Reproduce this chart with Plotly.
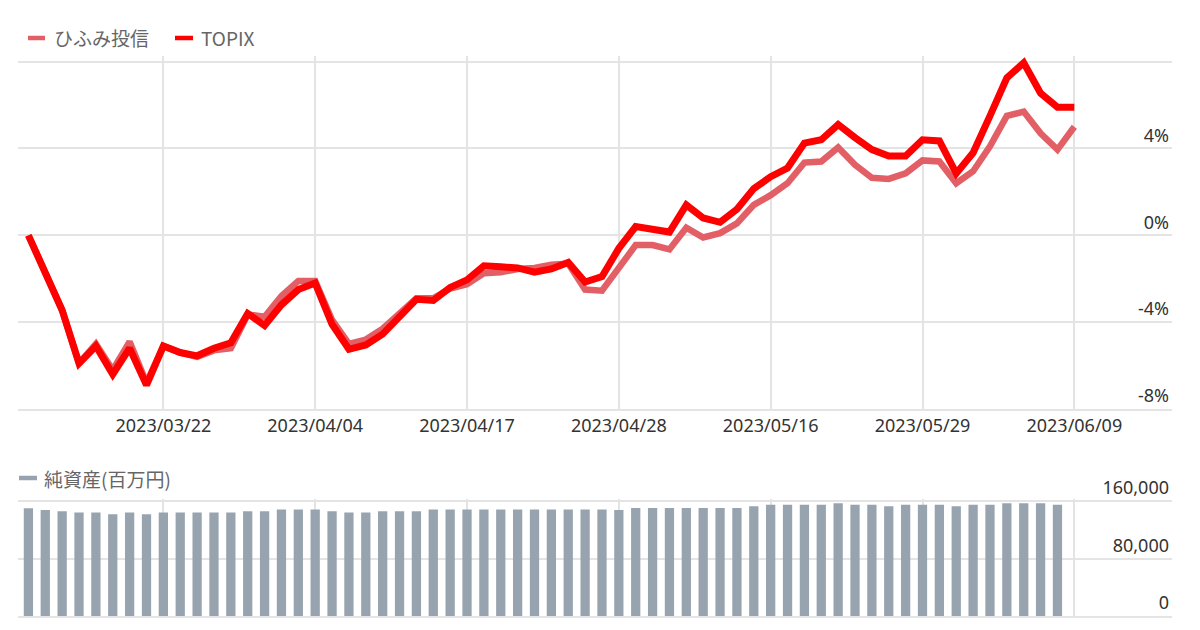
import plotly.graph_objects as go

# ---------------- data ----------------
dates = [
    "2023/03/09", "2023/03/10", "2023/03/13", "2023/03/14", "2023/03/15", "2023/03/16", "2023/03/17",
    "2023/03/20", "2023/03/22", "2023/03/23", "2023/03/24", "2023/03/27", "2023/03/28", "2023/03/29",
    "2023/03/30", "2023/03/31",
    "2023/04/03", "2023/04/04", "2023/04/05", "2023/04/06", "2023/04/07", "2023/04/10", "2023/04/11",
    "2023/04/12", "2023/04/13", "2023/04/14", "2023/04/17", "2023/04/18", "2023/04/19", "2023/04/20",
    "2023/04/21", "2023/04/24", "2023/04/25", "2023/04/26", "2023/04/27", "2023/04/28",
    "2023/05/01", "2023/05/02", "2023/05/08", "2023/05/09", "2023/05/10", "2023/05/11", "2023/05/12",
    "2023/05/15", "2023/05/16", "2023/05/17", "2023/05/18", "2023/05/19", "2023/05/22", "2023/05/23",
    "2023/05/24", "2023/05/25", "2023/05/26", "2023/05/29", "2023/05/30", "2023/05/31",
    "2023/06/01", "2023/06/02", "2023/06/05", "2023/06/06", "2023/06/07", "2023/06/08", "2023/06/09",
]

hifumi = [
    0.0, -1.8, -3.45, -5.9, -5.0, -6.2, -4.9, -6.8, -5.1, -5.4, -5.6, -5.3, -5.2, -3.65, -3.75,
    -2.8, -2.1, -2.1, -3.9, -5.0, -4.8, -4.3, -3.6, -2.9, -2.9, -2.45, -2.25, -1.75, -1.7, -1.55,
    -1.5, -1.35, -1.3, -2.5, -2.55, -1.45, -0.45, -0.45, -0.65, 0.35, -0.1, 0.1, 0.55, 1.4, 1.85,
    2.4, 3.35, 3.4, 4.05, 3.25, 2.65, 2.6, 2.85, 3.45, 3.4, 2.4, 2.95, 4.1, 5.5, 5.7, 4.7, 3.95, 5.0,
]

topix = [
    0.0, -1.8, -3.45, -5.9, -5.1, -6.4, -5.2, -6.9, -5.1, -5.4, -5.55, -5.2, -4.95, -3.6, -4.15,
    -3.2, -2.5, -2.2, -4.1, -5.25, -5.05, -4.55, -3.7, -2.95, -3.0, -2.4, -2.05, -1.4, -1.45, -1.5,
    -1.7, -1.55, -1.25, -2.15, -1.9, -0.6, 0.4, 0.25, 0.15, 1.4, 0.8, 0.6, 1.2, 2.15, 2.7,
    3.1, 4.25, 4.4, 5.1, 4.5, 3.95, 3.65, 3.65, 4.4, 4.35, 2.85, 3.8, 5.5, 7.25, 7.95, 6.55, 5.9, 5.9,
]

# 純資産 (百万円) – available up to 2023/06/08
net_assets = [
    149900, 147600, 145700, 143900, 143900, 141600, 143900, 141600, 143900, 143900,
    143900, 143900, 143900, 145700, 145700, 148000, 148000, 148000, 145700, 143900,
    143900, 145700, 145700, 145700, 148000, 148000, 148000, 148000, 148000, 148000,
    148000, 148000, 148000, 148000, 148000, 147500, 150300, 150300, 150300, 150300,
    150300, 150300, 150300, 152600, 154900, 154900, 154900, 154900, 156800, 154900,
    154900, 152600, 154900, 154900, 154900, 152600, 154900, 154900, 156800, 156800,
    156800, 154900,
]

tick_dates = ["2023/03/22", "2023/04/04", "2023/04/17", "2023/04/28", "2023/05/16", "2023/05/29", "2023/06/09"]
pct_ticks = [-8, -4, 0, 4, 8]
pct_labels = ["-8%", "-4%", "0%", "4%", ""]
asset_ticks = [0, 80000, 160000]

series_names = ["ひふみ投信", "TOPIX"]
bar_name = "純資産(百万円)"

# ---------------- style ----------------
W, H = 1200, 630
ML, MR, MT, MB = 18, 28, 0, 14
PW = W - ML - MR
PH = H - MT - MB

def px_x(p):
    return (p - ML) / PW

def px_y(p):
    return (H - MB - p) / PH

GRID = "#e4e4e4"
HIFUMI_C = "#e35f66"
TOPIX_C = "#ff0000"
BAR_C = "#97a4b0"
TICK_FONT = dict(family="Noto Sans, Noto Sans CJK JP", size=18, color="#333333")
LEG_FONT = dict(family="Noto Sans CJK JP", size=19, color="#666666")

fig = go.Figure()
fig.add_trace(go.Scatter(x=dates, y=hifumi, mode="lines", name=series_names[0],
                         line=dict(color=HIFUMI_C, width=6.5), xaxis="x", yaxis="y",
                         showlegend=False))
fig.add_trace(go.Scatter(x=dates, y=topix, mode="lines", name=series_names[1],
                         line=dict(color=TOPIX_C, width=7), xaxis="x", yaxis="y",
                         showlegend=False))
fig.add_trace(go.Bar(x=dates[:len(net_assets)], y=net_assets, name=bar_name,
                     marker=dict(color=BAR_C, line=dict(width=0)), xaxis="x2", yaxis="y2",
                     showlegend=False))

xrange = [-0.617, 67.79]
common_x = dict(type="category", categoryorder="array", categoryarray=dates, range=xrange,
                tickmode="array", tickvals=tick_dates, ticktext=tick_dates,
                showgrid=True, gridcolor=GRID, gridwidth=1.5, ticks="",
                showline=True, linecolor=GRID, linewidth=1.5, zeroline=False,
                automargin=False)

PX_PER_80K = 57.5
fig.update_layout(
    width=W, height=H,
    margin=dict(l=ML, r=MR, t=MT, b=MB, autoexpand=False),
    paper_bgcolor="white", plot_bgcolor="white",
    bargap=0.45,
    xaxis=dict(**common_x, domain=[0, 1], anchor="y", tickfont=TICK_FONT, ticklabelstandoff=0),
    xaxis2=dict(**common_x, domain=[0, 1], anchor="y2", showticklabels=False),
    yaxis=dict(domain=[px_y(409), px_y(409 - 16.25 * 21.71)], range=[-8, 8.25], side="right",
               tickmode="array", tickvals=pct_ticks, ticktext=pct_labels,
               ticklabelposition="inside", ticklabelshift=-13, ticklabeloverflow="allow",
               showgrid=True, gridcolor=GRID, gridwidth=1.5, zeroline=False, showline=False,
               ticks="", tickfont=TICK_FONT, anchor="x", automargin=False),
    yaxis2=dict(domain=[px_y(616), px_y(616 - 2.03 * PX_PER_80K)], range=[0, 162400], side="right",
                tickmode="array", tickvals=asset_ticks, tickformat=",d",
                ticklabelposition="inside", ticklabelshift=-13, ticklabeloverflow="allow",
                showgrid=True, gridcolor=GRID, gridwidth=1.5, zeroline=False, showline=False,
                ticks="", tickfont=TICK_FONT, anchor="x2", automargin=False),
    showlegend=False,
)

# custom legends (swatch + text)
legend_items = [
    (28, 45, 52, 38, HIFUMI_C, series_names[0]),
    (175, 193, 199, 38, TOPIX_C, series_names[1]),
    (19, 37, 42, 478, BAR_C, bar_name),
]
for x0, x1, tx, yy, col, label in legend_items:
    fig.add_shape(type="line", xref="paper", yref="paper",
                  x0=px_x(x0), x1=px_x(x1), y0=px_y(yy), y1=px_y(yy),
                  line=dict(color=col, width=4.5))
    fig.add_annotation(xref="paper", yref="paper", x=px_x(tx), y=px_y(yy),
                       xanchor="left", yanchor="middle", text=label, showarrow=False,
                       font=LEG_FONT)

fig.write_html("out.html", config={"displayModeBar": False},
               post_script="document.body.style.margin='0';document.body.style.overflow='hidden';")
